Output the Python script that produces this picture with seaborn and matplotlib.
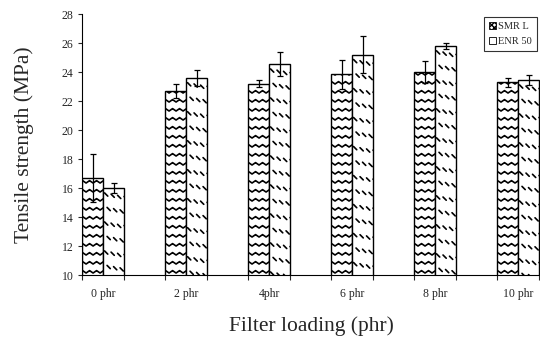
import numpy as np
import pandas as pd
import matplotlib
matplotlib.use('Agg')
import matplotlib.pyplot as plt
import seaborn as sns
from matplotlib.lines import Line2D
from matplotlib.patches import Patch
from matplotlib.transforms import Bbox, IdentityTransform

# Data
loading = ['0 phr', '2 phr', '4phr', '6 phr', '8 phr', '10 phr']
smr_l = [16.7, 22.7, 23.2, 23.85, 24.0, 23.3]
smr_l_err = [1.63, 0.5, 0.25, 1.0, 0.73, 0.3]
enr_50 = [16.0, 23.6, 24.55, 25.2, 25.8, 23.45]
enr_50_err = [0.35, 0.53, 0.85, 1.3, 0.2, 0.35]
rubbers = ['SMR L', 'ENR 50']

df = pd.DataFrame({
    'loading': loading * 2,
    'value': smr_l + enr_50,
    'rubber': [rubbers[0]] * len(loading) + [rubbers[1]] * len(loading),
})

sns.set_style('ticks')
plt.rcParams['font.family'] = ['Liberation Serif', 'DejaVu Serif']

fig = plt.figure(figsize=(5.4, 3.41), dpi=100)
ax = fig.add_axes([0.152, 0.1935, 0.848, 0.7654])

group_w = 0.506
sns.barplot(data=df, x='loading', y='value', hue='rubber', order=loading,
            hue_order=rubbers, width=group_w, gap=0, errorbar=None,
            palette=['white', 'white'], edgecolor='black', linewidth=1.0,
            legend=False, ax=ax)
bars = list(ax.containers)

# error bars at the bar centres
for cont, vals, errs in zip(bars, [smr_l, enr_50], [smr_l_err, enr_50_err]):
    xs = [p.get_x() + p.get_width() / 2 for p in cont]
    ax.errorbar(xs, vals, yerr=errs, fmt='none', ecolor='black',
                elinewidth=0.9, capsize=2.5, capthick=0.9, zorder=4)

ax.set_ylim(10, 28)
ax.set_yticks(np.arange(10, 29, 2))
ax.set_xlim(-group_w / 2, len(loading) - 1 + group_w / 2 + 0.012)

# major ticks at the group edges, labels on minor ticks at the centres
edges = []
for i in range(len(loading)):
    edges += [i - group_w / 2, i + group_w / 2]
ax.set_xticks(edges)
ax.set_xticklabels([''] * len(edges))
ax.set_xticks(range(len(loading)), minor=True)
ax.set_xticklabels(loading, minor=True)
ax.tick_params(axis='x', which='major', direction='out', length=3.5, width=0.8)
ax.tick_params(axis='x', which='minor', length=0, pad=9, labelsize=8.5)
ax.tick_params(axis='y', direction='out', length=3, width=0.8, labelsize=8.5, pad=3)

for s in ['top', 'right']:
    ax.spines[s].set_visible(False)
for s in ['left', 'bottom']:
    ax.spines[s].set_linewidth(0.8)
    ax.spines[s].set_color('black')

ax.set_xlabel('Filter loading (phr)', fontsize=15.5, labelpad=12)
ax.set_ylabel('Tensile strength (MPa)', fontsize=15.5, labelpad=20)

leg = ax.legend(handles=[Patch(facecolor='white', edgecolor='black', hatch='xxxxxx', linewidth=0.6),
                         Patch(facecolor='white', edgecolor='black', linewidth=0.6)],
                labels=rubbers, loc='upper right', bbox_to_anchor=(1.005, 1.01),
                fontsize=7.5, frameon=True, fancybox=False, handlelength=0.7,
                handleheight=0.7, handletextpad=0.2, borderpad=0.5, labelspacing=0.55)
leg.get_frame().set_edgecolor('black')
leg.get_frame().set_linewidth(0.8)

# textures drawn in pixel space, clipped to the visible part of each bar
fig.canvas.draw()
ident = IdentityTransform()
ax_bb = ax.get_window_extent()


def add_clipped(xs, ys, box):
    ln = Line2D(xs, ys, transform=ident, color='black', lw=1.2, zorder=2)
    ax.add_artist(ln)
    ln.set_clip_path(None)
    ln.set_clip_box(box)


for ci, cont in enumerate(bars):
    for p in cont:
        bb = Bbox.intersection(p.get_window_extent(), ax_bb)
        x0, x1, y0, y1 = bb.x0 + 0.5, bb.x1 - 0.5, bb.y0, bb.y1 - 0.5
        box = Bbox.from_extents(x0, y0, x1, y1)
        if ci == 0:
            # wavy rows
            xs = np.arange(x0 - 4, x1 + 4, 0.5)
            for yr in np.arange(y0 + 2, y1 + 9, 9.0):
                ys = yr + 2.4 * np.abs(((xs - x0) / 3.5) % 2 - 1)
                add_clipped(xs, ys, box)
        else:
            # rows of short slanted dashes
            for j, yr in enumerate(np.arange(y1 - 6, y0 - 10, -14.5)):
                off = 2.5 if j % 2 else 0
                for k, xd in enumerate(np.arange(x0 + 1 + off, x1 + 4, 6.5)):
                    yy = yr - k * 1.2
                    add_clipped([xd, xd + 3.2], [yy + 1.6, yy - 1.6], box)

fig.savefig('out.png', dpi=100)
